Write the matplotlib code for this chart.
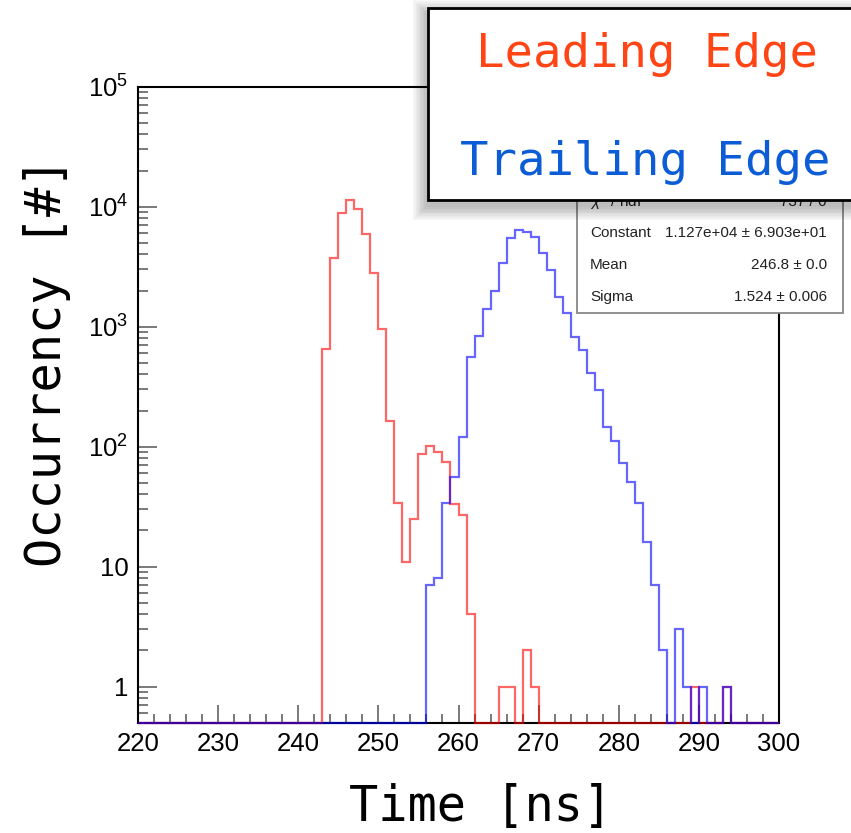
import numpy as np
import matplotlib
matplotlib.use("Agg")
import matplotlib.pyplot as plt
from matplotlib.patches import Rectangle
from matplotlib.ticker import FixedLocator, FixedFormatter, MultipleLocator, LogLocator, NullFormatter

plt.rcParams["font.family"] = ["Liberation Sans", "DejaVu Sans"]
plt.rcParams["mathtext.fontset"] = "custom"
plt.rcParams["mathtext.rm"] = "Liberation Sans"
plt.rcParams["mathtext.it"] = "Liberation Sans:italic"

# ---- histogram contents (1 ns bins, 220-300 ns) ----
x_range = (220, 300)
leading_bin_low = [243, 244, 245, 246, 247, 248, 249, 250, 251, 252, 253, 254,
                   255, 256, 257, 258, 259, 260, 261, 265, 266, 268, 269, 289, 293]
leading_counts = [650, 3750, 8900, 11300, 9500, 5900, 2800, 950, 165, 34, 11, 25,
                  87, 101, 90, 75, 33, 27, 4, 1, 1, 2, 1, 1, 1]

trailing_bin_low = [256, 257, 258, 259, 260, 261, 262, 263, 264, 265, 266, 267,
                    268, 269, 270, 271, 272, 273, 274, 275, 276, 277, 278, 279,
                    280, 281, 282, 283, 284, 285, 287, 288, 290, 293]
trailing_counts = [7, 8, 34, 56, 121, 563, 837, 1396, 1997, 3370, 5450, 6400,
                   6110, 5630, 4140, 2960, 1770, 1290, 815, 640, 409, 298, 147, 112,
                   73, 51, 34, 16, 7, 2, 3, 1, 1, 1]

y_range = (0.5, 1e5)
x_major = [220, 230, 240, 250, 260, 270, 280, 290, 300]
y_major = [1, 10, 100, 1000, 10000, 100000]
y_major_labels = ["1", "10", r"$\mathregular{10^{2}}$", r"$\mathregular{10^{3}}$",
                  r"$\mathregular{10^{4}}$", r"$\mathregular{10^{5}}$"]

fit_rows = [(r"$\chi^{2}$ / ndf", "737 / 6"),
            ("Constant", "1.127e+04 \u00b1 6.903e+01"),
            ("Mean", "246.8 \u00b1 0.0"),
            ("Sigma", "1.524 \u00b1 0.006")]

legend_entries = [("Leading Edge", "#ff4516"), ("Trailing Edge", "#0c5cd6")]

# ---- build full bin arrays ----
edges = np.arange(x_range[0], x_range[1] + 1, 1)
def fill_bins(lows, counts):
    full = np.zeros(len(edges) - 1)
    for lo, c in zip(lows, counts):
        full[lo - x_range[0]] = c
    return full

lead = fill_bins(leading_bin_low, leading_counts)
trail = fill_bins(trailing_bin_low, trailing_counts)

W, H = 851, 833
fig = plt.figure(figsize=(W / 100, H / 100), dpi=100)
fig.patch.set_facecolor("white")

def fx(px):
    return px / W

def fy(py):
    return 1 - py / H

ax = fig.add_axes([fx(138), fy(722.7), 641 / W, 636 / H])
ax.set_yscale("log")
ax.set_xlim(*x_range)
ax.set_ylim(*y_range)

# empty bins run along the lower frame edge
ax.stairs(np.maximum(lead, y_range[0]), edges, baseline=None,
          color=(1.0, 0.0, 0.0, 0.6), lw=1.6, zorder=3, clip_on=False)
ax.stairs(np.maximum(trail, y_range[0]), edges, baseline=None,
          color=(0.0, 0.0, 1.0, 0.6), lw=1.6, zorder=4, clip_on=False)

for s in ["top", "right", "left", "bottom"]:
    ax.spines[s].set_linewidth(1.5)
    ax.spines[s].set_color("black")
    ax.spines[s].set_zorder(2)

ax.xaxis.set_major_locator(FixedLocator(x_major))
ax.xaxis.set_major_formatter(FixedFormatter([str(v) for v in x_major]))
ax.xaxis.set_minor_locator(MultipleLocator(2))
ax.yaxis.set_major_locator(FixedLocator(y_major))
ax.yaxis.set_major_formatter(FixedFormatter(y_major_labels))
ax.yaxis.set_minor_locator(LogLocator(base=10, subs=np.arange(2, 10), numticks=20))
ax.yaxis.set_minor_formatter(NullFormatter())

ax.tick_params(which="both", direction="in", color="#555555", width=1.1,
               labelsize=18.5, labelcolor="black")
ax.tick_params(axis="x", which="major", length=12.7, pad=7)
ax.tick_params(axis="x", which="minor", length=6.3)
ax.tick_params(axis="y", which="major", length=13.7, pad=7)
ax.tick_params(axis="y", which="minor", length=7.2)

# axis titles
mono = "DejaVu Sans Mono"
fig.text(fx(47), fy(362), "Occurrency [#]", rotation=90, ha="center", va="center",
         fontsize=35, family=mono, color="black")
fig.text(fx(481), fy(821), "Time [ns]", ha="center", va="baseline",
         fontsize=35, family=mono, color="black")

# fit statistics box
sx0, sx1, sy0, sy1 = 577, 843, 184, 313
fig.patches.append(Rectangle((fx(sx0), fy(sy1)), (sx1 - sx0) / W, (sy1 - sy0) / H,
                             transform=fig.transFigure, facecolor="white",
                             edgecolor="#888888", lw=1.3, zorder=5))
row_y = [202, 233, 265, 297]
for (name, val), yy in zip(fit_rows, row_y):
    fig.text(fx(590), fy(yy), name, ha="left", va="center", fontsize=11,
             color="#222222", zorder=6)
    fig.text(fx(827), fy(yy), val, ha="right", va="center", fontsize=11,
             color="#222222", zorder=6)

# legend box with soft drop shadow
lx0, lx1, ly0, ly1 = 428, 870, 8, 200
for i in range(10, 0, -1):
    g = i * 1.4
    fig.patches.append(Rectangle((fx(lx0 - g - 1), fy(ly1 + g + 6)),
                                 (lx1 - lx0 + 2 * g) / W, (ly1 - ly0 + 2 * g) / H,
                                 transform=fig.transFigure, facecolor="black",
                                 edgecolor="none", alpha=0.028, zorder=7))
fig.patches.append(Rectangle((fx(lx0), fy(ly1)), (lx1 - lx0) / W, (ly1 - ly0) / H,
                             transform=fig.transFigure, facecolor="white",
                             edgecolor="black", lw=2.0, zorder=8))
for (label, col), (xx, yy) in zip(legend_entries, [(646.5, 66.7), (645.5, 175)]):
    fig.text(fx(xx), fy(yy), label, ha="center", va="baseline", fontsize=34,
             family=mono, color=col, zorder=9)

fig.savefig("out.png", dpi=100, facecolor="white")
